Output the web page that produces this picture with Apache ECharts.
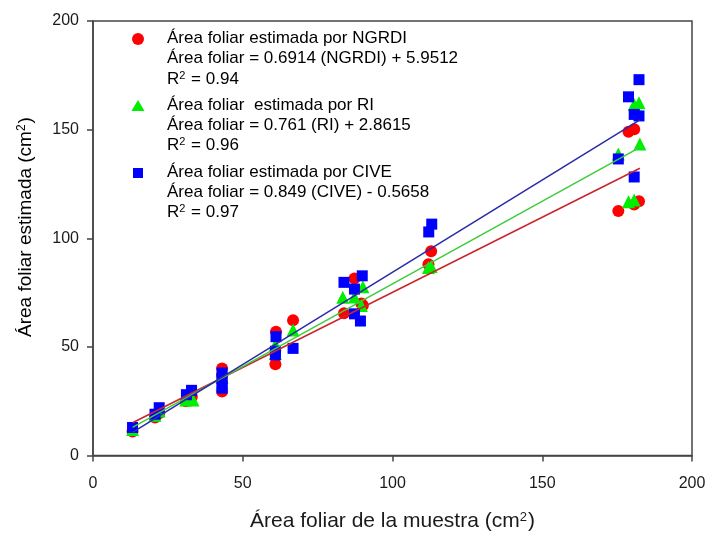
<!DOCTYPE html>
<html>
<head>
<meta charset="utf-8">
<script src="https://cdn.jsdelivr.net/npm/echarts@6/dist/echarts.min.js"></script>
<style>
  html, body { margin: 0; padding: 0; background: #fff; }
  #chart { width: 709px; height: 537px; }
</style>
</head>
<body>
<div id="chart"></div>
<script>
// Measured leaf area (x) vs. leaf area estimated from each vegetation index (y), cm²
const ngrdiPoints = [
  [13.2, 11], [20.7, 17.5], [22.1, 19.5], [31, 25], [33, 27],
  [43.1, 40], [43.1, 37], [43.1, 29.5], [61.1, 57], [60.9, 42],
  [66.8, 62.3], [83.8, 65.5], [87.3, 81.5], [89.6, 70], [90.1, 69],
  [112, 88], [112.9, 94], [175.4, 112.5], [178.8, 149], [180.7, 150.2],
  [180.7, 115.5], [182.3, 117]
];
const riPoints = [
  [13.2, 12], [20.7, 18.5], [22.1, 20.5], [31, 25.5], [33.4, 25.5],
  [43.1, 36], [43.1, 33], [60.9, 51], [60.9, 47], [66.8, 57.8],
  [83.4, 72.8], [87.3, 73], [90.1, 77.7], [89.6, 69], [112, 86.5],
  [112.9, 87], [175.4, 138.8], [178.8, 116.8], [180.7, 117.6],
  [180.7, 161.6], [182.3, 162.4], [182.6, 143.4]
];
const civePoints = [
  [13.2, 12.9], [20.7, 19], [22.1, 22], [31.2, 28], [32.9, 30],
  [43.1, 38], [43.1, 35.5], [43.1, 33], [43.1, 31], [61.1, 54.7],
  [60.9, 46.3], [60.9, 48], [66.8, 49.3], [83.8, 79.7], [87.3, 76.6],
  [87.3, 65.2], [89.3, 61.9], [89.9, 82.7], [112.1, 102.9], [113.1, 106.5],
  [175.4, 136.5], [178.8, 165.1], [180.7, 157], [180.7, 128.2],
  [182.3, 156.3], [182.3, 173]
];

// Fitted regressions: [slope, intercept]
const ngrdiFit = [0.6914, 5.9512];
const riFit = [0.761, 2.8615];
const civeFit = [0.849, -0.5658];
const fitRange = [13.2, 182.6];

const xTicks = [0, 50, 100, 150, 200];
const yTicks = [0, 50, 100, 150, 200];

function fitLine(coef) {
  return fitRange.map(x => [x, coef[0] * x + coef[1]]);
}

const FONT = '"Liberation Sans", Arial, sans-serif';
const INK = '#1a1a1a';
const chart = echarts.init(document.getElementById('chart'), null, { renderer: 'canvas' });

const legendLines = [
  { y: 39, text: '{t|Área foliar estimada por NGRDI}' },
  { y: 59.5, text: '{t|Área foliar = 0.6914 (NGRDI) + 5.9512}' },
  { y: 79.5, text: '{t|R}{s|2}{t| = 0.94}' },
  { y: 106, text: '{t|Área foliar  estimada por RI}' },
  { y: 126, text: '{t|Área foliar = 0.761 (RI) + 2.8615}' },
  { y: 146, text: '{t|R}{s|2}{t| = 0.96}' },
  { y: 173, text: '{t|Área foliar estimada por CIVE}' },
  { y: 193, text: '{t|Área foliar = 0.849 (CIVE) - 0.5658}' },
  { y: 213, text: '{t|R}{s|2}{t| = 0.97}' }
];

function supRich(size, supSize) {
  return {
    t: { fontSize: size, fontFamily: FONT, color: INK, lineHeight: size + 1 },
    s: { fontSize: supSize, fontFamily: FONT, color: INK, lineHeight: supSize, verticalAlign: 'top', padding: [0, 1, 0, 0] }
  };
}

const graphic = [
  { type: 'circle', shape: { cx: 138, cy: 39, r: 6 }, style: { fill: '#ff0000' }, z: 10 },
  { type: 'polygon', shape: { points: [[138, 100], [131.5, 111], [144.5, 111]] }, style: { fill: '#00ee00' }, z: 10 },
  { type: 'rect', shape: { x: 133, y: 168, width: 10, height: 10 }, style: { fill: '#0000ff' }, z: 10 }
].concat(legendLines.map(l => ({
  type: 'text', left: 167, top: l.y - 9.5, z: 10,
  style: { text: l.text, rich: supRich(17, 11) }
}))).concat([{
  // vertical axis title
  type: 'text', x: 26, y: 227, rotation: Math.PI / 2, z: 10,
  style: {
    text: '{t|Área foliar estimada (cm}{s|2}{t|)}',
    rich: supRich(19, 12),
    align: 'center', verticalAlign: 'middle',
    textAlign: 'center', textVerticalAlign: 'middle'
  }
}]);

chart.setOption({
  animation: false,
  backgroundColor: '#ffffff',
  grid: {
    left: 93, right: 17, top: 21, bottom: 77,
    show: true, borderColor: '#444', borderWidth: 1.5, backgroundColor: 'transparent'
  },
  xAxis: {
    type: 'value', min: xTicks[0], max: xTicks[xTicks.length - 1], interval: 50,
    name: '{t|Área foliar de la muestra (cm}{s|2}{t|)}',
    nameLocation: 'middle', nameGap: 55,
    nameTextStyle: { rich: supRich(21, 13) },
    axisLine: { lineStyle: { color: '#444', width: 1.5 } },
    axisTick: { length: 6, lineStyle: { color: '#444', width: 1.5 } },
    axisLabel: { fontSize: 16, fontFamily: FONT, color: INK, margin: 20 },
    splitLine: { show: false }
  },
  yAxis: {
    type: 'value', min: yTicks[0], max: yTicks[yTicks.length - 1], interval: 50,
    axisLine: { lineStyle: { color: '#444', width: 1.5 } },
    axisTick: { length: 6, lineStyle: { color: '#444', width: 1.5 } },
    axisLabel: { fontSize: 16, fontFamily: FONT, color: INK, margin: 14 },
    splitLine: { show: false }
  },
  graphic: graphic,
  series: [
    { name: 'NGRDI', type: 'scatter', data: ngrdiPoints, symbol: 'circle', symbolSize: 12,
      itemStyle: { color: '#ff0000', opacity: 1 }, z: 2 },
    { name: 'RI', type: 'scatter', data: riPoints, symbol: 'triangle', symbolSize: 13,
      itemStyle: { color: '#00ee00', opacity: 1 }, z: 3 },
    { name: 'CIVE', type: 'scatter', data: civePoints, symbol: 'rect', symbolSize: 11,
      itemStyle: { color: '#0000ff', opacity: 1 }, z: 4 },
    { type: 'line', data: fitLine(ngrdiFit), symbol: 'none', silent: true,
      lineStyle: { color: '#c8262a', width: 1.5 }, z: 5 },
    { type: 'line', data: fitLine(riFit), symbol: 'none', silent: true,
      lineStyle: { color: '#3ccc3c', width: 1.5 }, z: 5 },
    { type: 'line', data: fitLine(civeFit), symbol: 'none', silent: true,
      lineStyle: { color: '#2a2aa8', width: 1.5 }, z: 5 }
  ]
});
</script>
</body>
</html>
